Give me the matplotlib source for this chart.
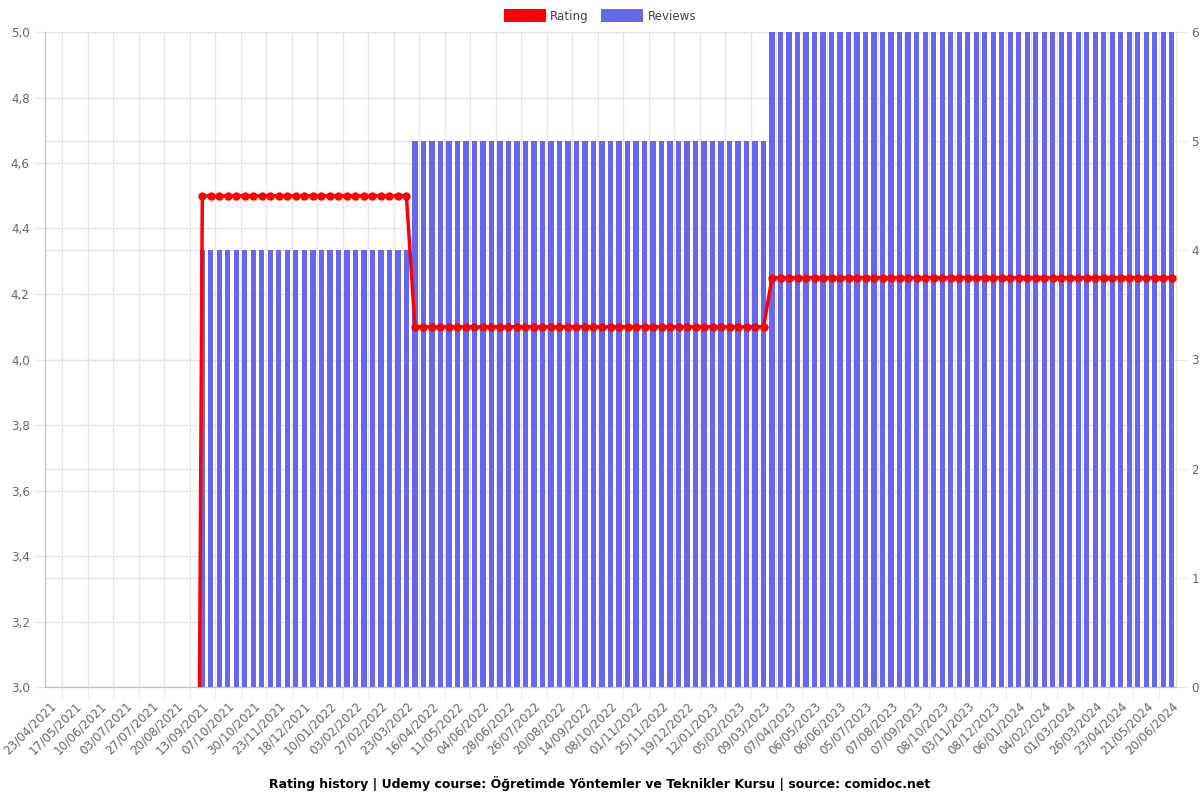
import numpy as np
import matplotlib
matplotlib.use("Agg")
import matplotlib.pyplot as plt
from matplotlib.patches import Patch
from matplotlib.ticker import FuncFormatter, MultipleLocator, FixedLocator

# run-length data (value held for N consecutive points)
run_lengths = [18, 25, 42, 48]
rating_levels = [0, 4.5, 4.1, 4.25]
reviews_levels = [0, 4, 5, 6]

# every 3rd point carries a visible date label
tick_labels = [
    "23/04/2021", "17/05/2021", "10/06/2021", "03/07/2021", "27/07/2021",
    "20/08/2021", "13/09/2021", "07/10/2021", "30/10/2021", "23/11/2021",
    "18/12/2021", "10/01/2022", "03/02/2022", "27/02/2022", "23/03/2022",
    "16/04/2022", "11/05/2022", "04/06/2022", "28/06/2022", "26/07/2022",
    "20/08/2022", "14/09/2022", "08/10/2022", "01/11/2022", "25/11/2022",
    "19/12/2022", "12/01/2023", "05/02/2023", "09/03/2023", "07/04/2023",
    "06/05/2023", "06/06/2023", "05/07/2023", "07/08/2023", "07/09/2023",
    "08/10/2023", "03/11/2023", "08/12/2023", "06/01/2024", "04/02/2024",
    "01/03/2024", "26/03/2024", "23/04/2024", "21/05/2024", "20/06/2024",
]
label_step = 3

rating = np.repeat(rating_levels, run_lengths)
reviews = np.repeat(reviews_levels, run_lengths)
x = np.arange(len(rating))

grid_c = "#e6e6e6"
axis_c = "#bfbfbf"
text_c = "#666666"

fig = plt.figure(figsize=(12, 8), dpi=100)
ax2 = fig.add_axes([0.0375, 0.14125, 0.9425, 0.81875])
ax = ax2.twinx()
ax.set_zorder(ax2.get_zorder() + 1)
ax.patch.set_visible(False)

# reviews bars on the right axis
ax2.bar(x, reviews, width=0.62, color="#6666ee", zorder=2)
ax2.set_xlim(-0.5, len(x) - 0.5)
ax2.set_ylim(0, 6)

# rating line on the left axis
ax.plot(x, rating, color="#ff0000", lw=2.5, marker="o", ms=5,
        zorder=3, clip_on=True)
ax.set_ylim(3.0, 5.0)

# rating scale on the left, reviews on the right
ax.yaxis.tick_left()
ax.yaxis.set_label_position("left")
ax2.yaxis.tick_right()
ax2.yaxis.set_label_position("right")

ax.yaxis.set_major_locator(MultipleLocator(0.2))
ax.yaxis.set_major_formatter(FuncFormatter(lambda v, p: f"{v:.1f}".replace(".", ",")))
ax2.yaxis.set_major_locator(MultipleLocator(1))

# x ticks: labels on every 3rd point, grid lines half way between labels
tick_pos = x[::label_step]
ax2.xaxis.set_major_locator(FixedLocator(tick_pos))
ax2.set_xticklabels(tick_labels, rotation=45, ha="right",
                    rotation_mode="anchor", color=text_c, fontsize=8.6)
ax2.xaxis.set_minor_locator(FixedLocator(tick_pos[1:] - label_step / 2))
ax2.tick_params(axis="x", which="major", length=0, pad=9)
ax2.tick_params(axis="x", which="minor", length=8, color=grid_c)
ax2.grid(axis="x", which="minor", color=grid_c, lw=1)
ax.tick_params(axis="x", which="both", bottom=False, top=False,
               labelbottom=False, labeltop=False)

# horizontal grid of both scales, kept behind the bars
ax2.grid(axis="y", color=grid_c, lw=1)
left_levels = [v for v in ax.get_yticks() if 3.0 <= v <= 5.0]
ax2.hlines(left_levels, 0, 1, transform=ax.get_yaxis_transform(),
           colors=grid_c, lw=1, zorder=0.5)
ax2.set_axisbelow(True)

ax.tick_params(axis="y", length=8, color=grid_c, labelcolor=text_c,
               labelsize=8.6, pad=3)
ax2.tick_params(axis="y", length=8, color=grid_c, labelcolor=text_c,
                labelsize=8.6, pad=3)

for a in (ax, ax2):
    a.spines["top"].set_visible(False)
    a.spines["left"].set_color(axis_c)
    a.spines["bottom"].set_color(axis_c)
    a.spines["right"].set_color(grid_c)

handles = [Patch(facecolor="#ff0000", label="Rating"),
           Patch(facecolor="#6666ee", label="Reviews")]
fig.legend(handles=handles, loc="center", bbox_to_anchor=(0.5, 0.98),
           ncol=2, frameon=False, fontsize=8.6, handlelength=3.5,
           handleheight=1.2, columnspacing=1.0, handletextpad=0.4,
           labelcolor="#444444")

fig.text(0.5, 0.021,
         "Rating history | Udemy course: Öğretimde Yöntemler ve Teknikler Kursu | source: comidoc.net",
         ha="center", va="center", fontsize=9, fontweight="bold")

fig.savefig("out.png", dpi=100)
